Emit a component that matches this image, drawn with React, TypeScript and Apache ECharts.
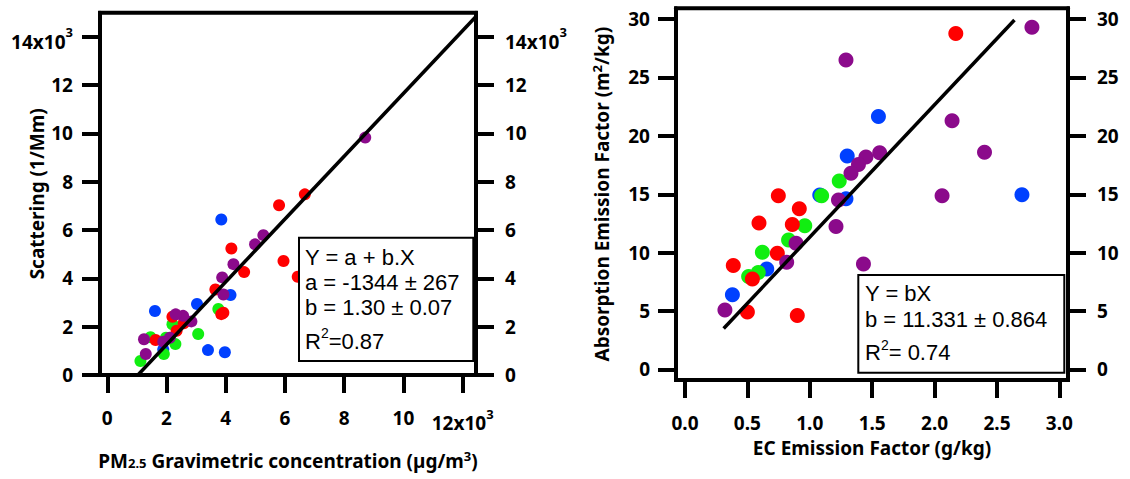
import React, { useEffect, useRef } from "react";
import * as echarts from "echarts";

// ---- tick values and labels ("^" marks a superscript) ----
const leftXTicks = [0, 2000, 4000, 6000, 8000, 10000, 12000];
const leftXTickLabels = ["0", "2", "4", "6", "8", "10", "12x10^3"];
const leftYTicks = [0, 2000, 4000, 6000, 8000, 10000, 12000, 14000];
const leftYTickLabels = ["0", "2", "4", "6", "8", "10", "12", "14x10^3"];
const rightXTicks = [0, 0.5, 1, 1.5, 2, 2.5, 3];
const rightXTickLabels = ["0.0", "0.5", "1.0", "1.5", "2.0", "2.5", "3.0"];
const rightYTicks = [0, 5, 10, 15, 20, 25, 30];
const rightYTickLabels = ["0", "5", "10", "15", "20", "25", "30"];

// ---- left panel: PM2.5 gravimetric concentration vs scattering ----
const leftBlue = [
  [3850, 6440], [4160, 3310], [3030, 2940], [1610, 2650], [3400, 1030], [3970, 940], [1890, 1060],
];
const leftGreen = [
  [3750, 2730], [3070, 1700], [2200, 2100], [2300, 1280], [1980, 1540], [1460, 1560], [1910, 870], [1120, 580],
];
const leftRed = [
  [6670, 7480], [5800, 7030], [4190, 5240], [5950, 4720], [4620, 4260], [6430, 4070], [3650, 3540],
  [3920, 2580], [3850, 2520], [2200, 2410], [2580, 2140], [2340, 1830], [1630, 1450],
];
const leftPurple = [
  [8710, 9830], [5270, 5790], [4990, 5410], [4260, 4590], [3880, 4040], [3920, 3330], [2840, 2220],
  [2560, 2450], [2310, 2510], [2110, 1540], [1890, 1380], [1240, 1480], [1300, 870],
];
const leftFitA = -1344;
const leftFitB = 1.3;
const leftFitX = [1034, 12450];
const leftFitText = ["Y = a + b.X", "a = -1344 ± 267", "b = 1.30 ± 0.07", "R^2=0.87"];

// ---- right panel: EC emission factor vs absorption emission factor ----
const rightBlue = [
  [1.55, 21.65], [1.3, 18.28], [1.29, 14.62], [2.7, 14.96], [1.08, 14.94], [0.655, 8.6], [0.38, 6.4],
];
const rightGreen = [
  [1.236, 16.14], [1.095, 14.88], [0.96, 12.31], [0.83, 11.08], [0.62, 10.04], [0.587, 8.3], [0.51, 7.96],
];
const rightRed = [
  [2.17, 28.77], [0.748, 14.88], [0.916, 13.75], [0.593, 12.55], [0.86, 12.42], [0.74, 9.96],
  [0.387, 8.9], [0.54, 7.75], [0.5, 4.92], [0.9, 4.62],
];
const rightPurple = [
  [2.78, 29.29], [1.29, 26.5], [2.14, 21.3], [2.4, 18.6], [1.56, 18.55], [1.45, 18.2], [1.39, 17.55],
  [1.33, 16.8], [2.06, 14.87], [1.23, 14.5], [1.21, 12.25], [0.89, 10.8], [0.815, 9.18], [1.43, 9.03],
  [0.32, 5.1],
];
const rightFitB = 11.331;
const rightFitX = [0.31, 2.64];
const rightFitText = ["Y = bX", "b = 11.331 ± 0.864", "R^2= 0.74"];

const COLORS = { blue: "#0040ff", green: "#11ee11", red: "#ff0000", purple: "#8b0a8b" };
const AXIS_FONT = "Noto Sans";
const BOX_FONT = "Liberation Sans";

function toRich(s: string) {
  const i = s.indexOf("^");
  if (i < 0) return s;
  const j = s.indexOf("=", i);
  if (j > 0) return `{m|${s.slice(0, i)}}{s|${s.slice(i + 1, j)}}{m|${s.slice(j)}}`;
  return `{m|${s.slice(0, i)}}{s|${s.slice(i + 1)}}`;
}

function labelFormatter(ticks: number[], labels: string[]) {
  return (v: number) => {
    const i = ticks.findIndex((t) => Math.abs(t - v) < 1e-9);
    return i < 0 ? "" : toRich(labels[i]);
  };
}

const TICK_SIZE = 19;
const TITLE_SIZE = 19;

const tickRich = {
  m: { fontFamily: AXIS_FONT, fontWeight: "bold", fontSize: TICK_SIZE, color: "#000", lineHeight: 22, padding: [10, 0, 0, 0] },
  s: { fontFamily: AXIS_FONT, fontWeight: "bold", fontSize: 13, color: "#000", lineHeight: 14, verticalAlign: "top" },
};

const titleRich = {
  t: { fontFamily: AXIS_FONT, fontWeight: "bold", fontSize: TITLE_SIZE, color: "#000", lineHeight: 22, padding: [10, 0, 4, 0] },
  sub: { fontFamily: AXIS_FONT, fontWeight: "bold", fontSize: 13, color: "#000", lineHeight: 14, verticalAlign: "bottom" },
  sup: { fontFamily: AXIS_FONT, fontWeight: "bold", fontSize: 13, color: "#000", lineHeight: 14, verticalAlign: "top", padding: [2, 0, 0, 0] },
};

const titleStyle = { fontFamily: AXIS_FONT, fontWeight: "bold", fontSize: TITLE_SIZE, color: "#000", lineHeight: 22 };

function makeAxis(gridIndex: number, position: string, min: number, max: number,
  ticks: number[], labels: string[], margin: number, extra: any = {}) {
  const needsRich = labels.some((l) => l.includes("^"));
  return {
    type: "value",
    gridIndex,
    position,
    min,
    max,
    nameMoveOverlap: false,
    splitLine: { show: false },
    axisLine: { show: true, onZero: false, lineStyle: { color: "#000", width: 4 } },
    axisTick: { show: true, inside: false, length: 18, lineStyle: { color: "#000", width: 4 }, customValues: ticks },
    axisLabel: {
      show: true,
      customValues: ticks,
      formatter: labelFormatter(ticks, labels),
      margin,
      hideOverlap: false,
      fontFamily: AXIS_FONT,
      fontWeight: "bold",
      fontSize: TICK_SIZE,
      lineHeight: 22,
      color: "#000",
      ...(needsRich ? { rich: tickRich } : {}),
    },
    ...extra,
  };
}

function scatter(data: number[][], color: string, xi: number, yi: number, size: number) {
  return {
    type: "scatter",
    xAxisIndex: xi,
    yAxisIndex: yi,
    data,
    symbol: "circle",
    symbolSize: size,
    itemStyle: { color, opacity: 1 },
    silent: true,
  };
}

function boxTexts(lines: string[], x: number, ys: number[]) {
  return lines.map((line, k) => ({
    type: "text",
    z: 101,
    x,
    y: ys[k] - (line.includes("^") ? 3 : 0),
    style: {
      text: toRich(line),
      fontFamily: BOX_FONT,
      fontSize: 22,
      fill: "#000",
      align: "left",
      verticalAlign: "middle",
      rich: {
        m: { fontFamily: BOX_FONT, fontSize: 22, fill: "#000", color: "#000", lineHeight: 24, padding: [6, 0, 0, 0] },
        s: { fontFamily: BOX_FONT, fontSize: 14, fill: "#000", color: "#000", lineHeight: 14, verticalAlign: "top" },
      },
    },
  }));
}

export default function App() {
  const ref = useRef<HTMLDivElement>(null);
  useEffect(() => {
    document.body.style.margin = "0";
    if (!ref.current) return;
    const chart = echarts.init(ref.current, null, { renderer: "svg" });
    const option: any = {
      animation: false,
      backgroundColor: "#fff",
      grid: [
        { left: 100, top: 12.7, width: 376, height: 362.3, show: true, borderColor: "#000", borderWidth: 4, containLabel: false, outerBoundsMode: "none" },
        { left: 676, top: 8.3, width: 392, height: 371.7, show: true, borderColor: "#000", borderWidth: 4, containLabel: false, outerBoundsMode: "none" },
      ],
      xAxis: [
        makeAxis(0, "bottom", -246, 12450, leftXTicks, leftXTickLabels, 32, {
          name: "{t|PM}{sub|2.5}{t| Gravimetric concentration (µg/m}{sup|3}{t|)}",
          nameLocation: "middle",
          nameGap: 72,
          nameTextStyle: { ...titleStyle, rich: titleRich },
        }),
        makeAxis(1, "bottom", -0.072, 3.069, rightXTicks, rightXTickLabels, 32, {
          name: "EC Emission Factor (g/kg)",
          nameLocation: "middle",
          nameGap: 57,
          nameTextStyle: titleStyle,
        }),
      ],
      yAxis: [
        makeAxis(0, "left", 0, 15000, leftYTicks, leftYTickLabels, 27, {
          name: "Scattering (1/Mm)",
          nameLocation: "middle",
          nameGap: 52,
          nameTextStyle: titleStyle,
        }),
        makeAxis(0, "right", 0, 15000, leftYTicks, leftYTickLabels, 29),
        makeAxis(1, "left", -0.9, 30.92, rightYTicks, rightYTickLabels, 26, {
          name: "{t|Absorption Emission Factor (m}{sup|2}{t|/kg)}",
          nameLocation: "middle",
          nameGap: 66,
          nameTextStyle: { ...titleStyle, rich: titleRich },
        }),
        makeAxis(1, "right", -0.9, 30.92, rightYTicks, rightYTickLabels, 29),
      ],
      series: [
        scatter(leftBlue, COLORS.blue, 0, 0, 12),
        scatter(leftGreen, COLORS.green, 0, 0, 12),
        scatter(leftRed, COLORS.red, 0, 0, 12),
        scatter(leftPurple, COLORS.purple, 0, 0, 12),
        {
          type: "line",
          xAxisIndex: 0,
          yAxisIndex: 0,
          data: leftFitX.map((x) => [x, leftFitA + leftFitB * x]),
          symbol: "none",
          lineStyle: { color: "#000", width: 3.5 },
          silent: true,
          z: 5,
        },
        scatter(rightBlue, COLORS.blue, 1, 2, 15),
        scatter(rightGreen, COLORS.green, 1, 2, 15),
        scatter(rightRed, COLORS.red, 1, 2, 15),
        scatter(rightPurple, COLORS.purple, 1, 2, 15),
        {
          type: "line",
          xAxisIndex: 1,
          yAxisIndex: 2,
          data: rightFitX.map((x) => [x, rightFitB * x]),
          symbol: "none",
          lineStyle: { color: "#000", width: 3.5 },
          silent: true,
          z: 5,
        },
      ],
      graphic: [
        {
          type: "rect",
          z: 100,
          shape: { x: 299, y: 237.7, width: 174.3, height: 123.3 },
          style: { fill: "#fff", stroke: "#000", lineWidth: 2 },
        },
        ...boxTexts(leftFitText, 305, [257, 282, 307, 341]),
        {
          type: "rect",
          z: 100,
          shape: { x: 858.3, y: 275, width: 206, height: 97.7 },
          style: { fill: "#fff", stroke: "#000", lineWidth: 2 },
        },
        ...boxTexts(rightFitText, 865, [293.4, 319.2, 352.5]),
      ],
    };
    chart.setOption(option);
    return () => chart.dispose();
  }, []);
  return <div ref={ref} style={{ width: 1130, height: 479 }} />;
}
